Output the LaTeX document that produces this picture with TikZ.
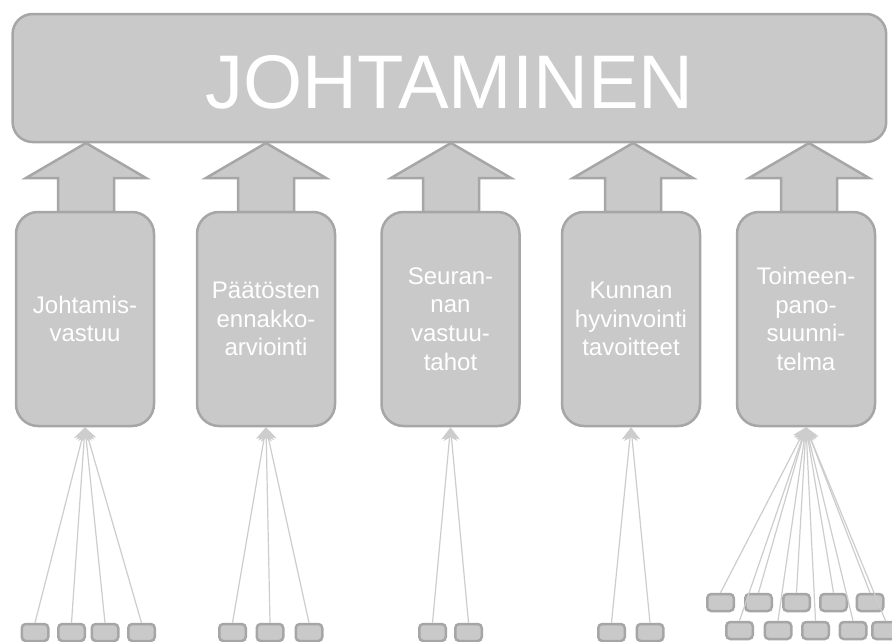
\documentclass[tikz,border=0pt]{standalone}
\usepackage{fontspec}
\setmainfont{Liberation Sans}
\usetikzlibrary{arrows.meta}
\definecolor{boxfill}{RGB}{201,201,201}
\definecolor{boxline}{RGB}{166,166,166}
\definecolor{connline}{RGB}{205,205,205}
\begin{document}
\begin{tikzpicture}[x=1pt,y=-1pt,
  bigbox/.style={draw=boxline, fill=boxfill, line width=2.5pt, rounded corners=20pt,
    minimum width=873.6pt, minimum height=128pt, inner sep=0pt},
  titletext/.style={text=white, inner sep=0pt, font=\fontsize{76}{80}\selectfont},
  colbox/.style={draw=boxline, fill=boxfill, line width=2.5pt, rounded corners=22pt,
    minimum width=138pt, minimum height=214pt, inner sep=0pt, text=white,
    align=center, font=\fontsize{24}{28.7}\selectfont},
  smallbox/.style={draw=boxline, fill=boxfill, line width=2.5pt, rounded corners=4pt,
    minimum width=26.5pt, minimum height=17pt, inner sep=0pt},
  bigarrow/.style={draw=boxline, fill=boxfill, line width=2.5pt, line join=miter},
  conn/.style={draw=connline, line width=1.2pt,
    -{Stealth[length=13pt,width=16pt,inset=3.5pt,fill=connline]}},
]
\useasboundingbox (0,0) rectangle (892,641);
\fill[white] (0,0) rectangle (892,641);

% big arrows (shapes)
\foreach \x in {86,266,451,633,809} {
  \draw[bigarrow] (\x-28,212) -- (\x-28,178) -- (\x-60,178) -- (\x,143)
    -- (\x+60,178) -- (\x+28,178) -- (\x+28,212) -- cycle;
}

% top box
\node[bigbox] (top) at (449.4,78) {};
\node[titletext] (title) at (449.4,82.5) {JOHTAMINEN};

% column boxes
\node[colbox] (c1) at (85,319) {Johtamis-\\vastuu};
\node[colbox] (c2) at (266,319) {Päätösten\\ennakko-\\arviointi};
\node[colbox] (c3) at (450.5,319) {Seuran-\\nan\\vastuu-\\tahot};
\node[colbox] (c4) at (631,319) {Kunnan\\hyvinvointi\\tavoitteet};
\node[colbox] (c5) at (806,319) {Toimeen-\\pano-\\suunni-\\telma};

% small boxes
\node[smallbox] (a1) at (35,632.5) {};
\node[smallbox] (a2) at (71.5,632.5) {};
\node[smallbox] (a3) at (105,632.5) {};
\node[smallbox] (a4) at (141.5,632.5) {};

\node[smallbox] (b1) at (232.5,632.5) {};
\node[smallbox] (b2) at (270,632.5) {};
\node[smallbox] (b3) at (309,632.5) {};

\node[smallbox] (d1) at (432.5,632.5) {};
\node[smallbox] (d2) at (468.5,632.5) {};

\node[smallbox] (e1) at (611.5,632.5) {};
\node[smallbox] (e2) at (650,632.5) {};

\node[smallbox] (f1) at (720.5,602.5) {};
\node[smallbox] (f2) at (758.5,602.5) {};
\node[smallbox] (f3) at (796.5,602.5) {};
\node[smallbox] (f4) at (833.5,602.5) {};
\node[smallbox] (f5) at (870,602.5) {};
\node[smallbox] (g1) at (739.5,630.5) {};
\node[smallbox] (g2) at (778,630.5) {};
\node[smallbox] (g3) at (815.5,630.5) {};
\node[smallbox] (g4) at (853,630.5) {};
\node[smallbox] (g5) at (885.5,630.5) {};

% connectors
\foreach \s in {a1,a2,a3,a4} \draw[conn] (\s.north) -- (c1.south);
\foreach \s in {b1,b2,b3} \draw[conn] (\s.north) -- (c2.south);
\foreach \s in {d1,d2} \draw[conn] (\s.north) -- (c3.south);
\foreach \s in {e1,e2} \draw[conn] (\s.north) -- (c4.south);
\foreach \s in {f1,f2,f3,f4,f5,g1,g2,g3,g4,g5} \draw[conn] (\s.north) -- (c5.south);
\end{tikzpicture}
\end{document}
